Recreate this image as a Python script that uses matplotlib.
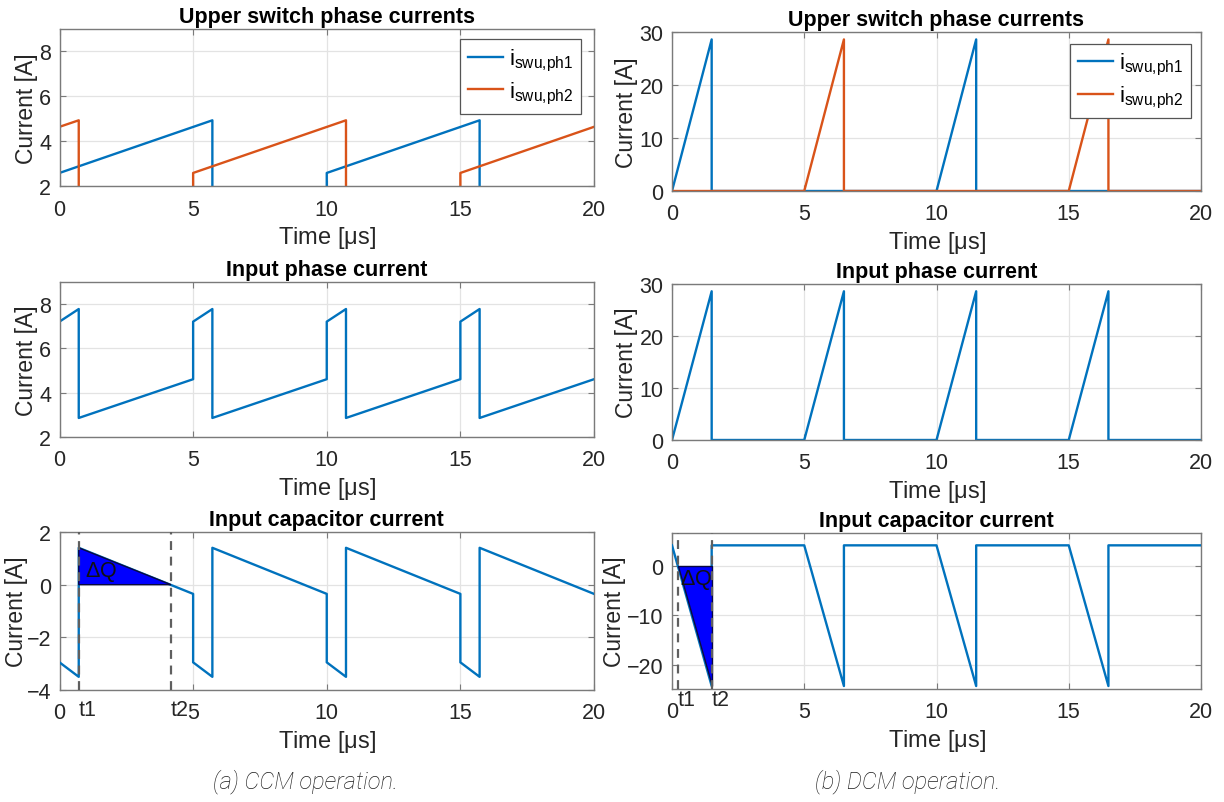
import matplotlib
matplotlib.use("Agg")
import matplotlib.pyplot as plt
from matplotlib.transforms import blended_transform_factory

plt.rcParams['font.family'] = ['Liberation Sans', 'DejaVu Sans']
plt.rcParams['mathtext.default'] = 'regular'
plt.rcParams['mathtext.fontset'] = 'custom'
plt.rcParams['mathtext.rm'] = 'Liberation Sans'
plt.rcParams['mathtext.it'] = 'Liberation Sans:italic'

BLUE = '#0072BD'
ORANGE = '#D95319'
TXT = '#262626'

# ---------------- CCM waveforms (time in us, current in A) ----------------
t_sw1_ccm = [0, 5.72, 5.72, 10, 10, 15.72, 15.72, 20]
i_sw1_ccm = [2.58, 4.92, 0, 0, 2.58, 4.92, 0, 0]
t_sw2_ccm = [0, 0.72, 0.72, 5, 5, 10.72, 10.72, 15, 15, 20]
i_sw2_ccm = [4.63, 4.92, 0, 0, 2.58, 4.92, 0, 0, 2.58, 4.63]

t_in_ccm = [0, 0.72, 0.72, 5, 5, 5.72, 5.72, 10, 10, 10.72, 10.72, 15, 15, 15.72, 15.72, 20]
i_in_ccm = [7.21, 7.78, 2.86, 4.61, 7.21, 7.78, 2.86, 4.61,
            7.21, 7.78, 2.86, 4.61, 7.21, 7.78, 2.86, 4.61]

t_cap_ccm = [0, 0.72, 0.72, 5, 5, 5.72, 5.72, 10, 10, 10.72, 10.72, 15, 15, 15.72, 15.72, 20]
i_cap_ccm = [-2.95, -3.5, 1.4, -0.35, -2.95, -3.5, 1.4, -0.35,
             -2.95, -3.5, 1.4, -0.35, -2.95, -3.5, 1.4, -0.35]
t1_ccm, t2_ccm = 0.72, 4.17
dq_peak_ccm = 1.4

# ---------------- DCM waveforms ----------------
t_sw1_dcm = [0, 1.5, 1.5, 10, 11.5, 11.5, 20]
i_sw1_dcm = [0, 28.6, 0, 0, 28.6, 0, 0]
t_sw2_dcm = [0, 5, 6.5, 6.5, 15, 16.5, 16.5, 20]
i_sw2_dcm = [0, 0, 28.6, 0, 0, 28.6, 0, 0]

t_in_dcm = [0, 1.5, 1.5, 5, 6.5, 6.5, 10, 11.5, 11.5, 15, 16.5, 16.5, 20]
i_in_dcm = [0, 28.6, 0, 0, 28.6, 0, 0, 28.6, 0, 0, 28.6, 0, 0]

t_cap_dcm = [0, 1.5, 1.5, 5, 6.5, 6.5, 10, 11.5, 11.5, 15, 16.5, 16.5, 20]
i_cap_dcm = [4.2, -24.3, 4.2, 4.2, -24.3, 4.2, 4.2, -24.3, 4.2, 4.2, -24.3, 4.2, 4.2]
t1_dcm, t2_dcm = 0.22, 1.5
dq_peak_dcm = -24.3

x_ticks = [0, 5, 10, 15, 20]
legend_labels = ['$i_{swu{,}ph1}$', '$i_{swu{,}ph2}$']
titles = ['Upper switch phase currents', 'Input phase current', 'Input capacitor current']
captions = ['(a) CCM operation.', '(b) DCM operation.']

W, H = 1224, 803
fig = plt.figure(figsize=(W / 100, H / 100), dpi=100)


def make_ax(x0, x1, y0, y1):
    return fig.add_axes([x0 / W, 1 - y1 / H, (x1 - x0) / W, (y1 - y0) / H])


def style(ax, ylim, yticks, title, ylabel_x):
    ax.set_xlim(0, 20)
    ax.set_ylim(*ylim)
    ax.set_xticks(x_ticks)
    ax.set_yticks(yticks)
    ax.grid(True, color='#e3e3e3', linewidth=0.9)
    ax.set_axisbelow(True)
    for s in ax.spines.values():
        s.set_color('#7a7a7a')
        s.set_linewidth(1.0)
    ax.tick_params(direction='in', length=4, width=0.8, color='#7a7a7a',
                   top=True, right=True, labelsize=15.5, labelcolor=TXT)
    ax.tick_params(axis='x', pad=9)
    ax.tick_params(axis='y', pad=6)
    ax.set_title(title, fontsize=15.5, fontweight='bold', color='black', pad=5)
    ax.set_xlabel('Time [$\\mu$s]', fontsize=17, color=TXT, labelpad=3)
    ax.set_ylabel('Current [A]', fontsize=16.5, color=TXT, va='center')
    # place the y label centre at a fixed pixel column
    x0_px = ax.get_position().x0 * W
    w_px = ax.get_position().width * W
    ax.yaxis.set_label_coords((ylabel_x - x0_px) / w_px, 0.5)


def add_legend(ax, anchor):
    leg = ax.legend(loc='upper right', bbox_to_anchor=anchor, borderaxespad=0,
                    fontsize=16, fancybox=False, framealpha=1, edgecolor='#555555',
                    handlelength=1.6, labelspacing=0.3, borderpad=0.35,
                    handletextpad=0.25)
    leg.get_frame().set_linewidth(0.9)


LW = 1.7
lx0, lx1 = 59.5, 594
rx0, rx1 = 672, 1201

# ---------- left column: CCM ----------
ax = make_ax(lx0, lx1, 29.5, 187)
ax.plot(t_sw1_ccm, i_sw1_ccm, color=BLUE, lw=LW, label=legend_labels[0])
ax.plot(t_sw2_ccm, i_sw2_ccm, color=ORANGE, lw=LW, label=legend_labels[1])
style(ax, (2, 9), [2, 4, 6, 8], titles[0], 26)
add_legend(ax, (0.976, 0.932))

ax = make_ax(lx0, lx1, 283, 438)
ax.plot(t_in_ccm, i_in_ccm, color=BLUE, lw=LW)
style(ax, (2, 9), [2, 4, 6, 8], titles[1], 26)

ax = make_ax(lx0, lx1, 533, 691)
ax.plot(t_cap_ccm, i_cap_ccm, color=BLUE, lw=LW, zorder=3)
ax.fill([t1_ccm, t1_ccm, t2_ccm], [0, dq_peak_ccm, 0], facecolor='#0000FF',
        edgecolor='#0a0a40', lw=1.0, zorder=3.5)
for tv in (t1_ccm, t2_ccm):
    ax.axvline(tv, color='#5f5f5f', ls=(0, (4, 3)), lw=1.6, zorder=4)
ax.text(0.95, 0.5, '$\\Delta$Q', fontsize=15.5, color='#111111', va='center', zorder=5)
style(ax, (-4, 2), [-4, -2, 0, 2], titles[2], 17)
trans = blended_transform_factory(ax.transData, ax.transAxes)
ax.text(t1_ccm, -0.055, 't1', transform=trans, fontsize=15.5, color=TXT, ha='left', va='top')
ax.text(t2_ccm, -0.055, 't2', transform=trans, fontsize=15.5, color=TXT, ha='left', va='top')

# ---------- right column: DCM ----------
ax = make_ax(rx0, rx1, 33, 192)
ax.plot(t_sw1_dcm, i_sw1_dcm, color=BLUE, lw=LW, label=legend_labels[0])
ax.plot(t_sw2_dcm, i_sw2_dcm, color=ORANGE, lw=LW, label=legend_labels[1])
style(ax, (0, 30), [0, 10, 20, 30], titles[0], 627)
add_legend(ax, (0.981, 0.927))

ax = make_ax(rx0, rx1, 285, 441)
ax.plot(t_in_dcm, i_in_dcm, color=BLUE, lw=LW)
style(ax, (0, 30), [0, 10, 20, 30], titles[1], 627)

ax = make_ax(rx0, rx1, 534, 690)
ax.plot(t_cap_dcm, i_cap_dcm, color=BLUE, lw=LW, zorder=3)
ax.fill([t1_dcm, t2_dcm, t2_dcm], [0, 0, dq_peak_dcm], facecolor='#0000FF',
        edgecolor='#0a0a40', lw=1.0, zorder=3.5)
for tv in (t1_dcm, t2_dcm):
    ax.axvline(tv, color='#5f5f5f', ls=(0, (4, 3)), lw=1.6, zorder=4)
ax.text(0.3, -2.6, '$\\Delta$Q', fontsize=15.5, color='#111111', va='center', zorder=5)
style(ax, (-24.9, 6.7), [-20, -10, 0], titles[2], 614)
trans = blended_transform_factory(ax.transData, ax.transAxes)
ax.text(t1_dcm, 0.0, 't1', transform=trans, fontsize=15.5, color=TXT, ha='left', va='top')
ax.text(t2_dcm, 0.0, 't2', transform=trans, fontsize=15.5, color=TXT, ha='left', va='top')

# ---------- captions ----------
for cx, cap in zip((305, 908), captions):
    fig.text(cx / W, 1 - 782 / H, cap, ha='center', va='center',
             fontsize=17, style='italic', family=['Roboto', 'DejaVu Sans'],
             fontweight='light', color='#1e1e1e')

fig.savefig('out.png', dpi=100)
